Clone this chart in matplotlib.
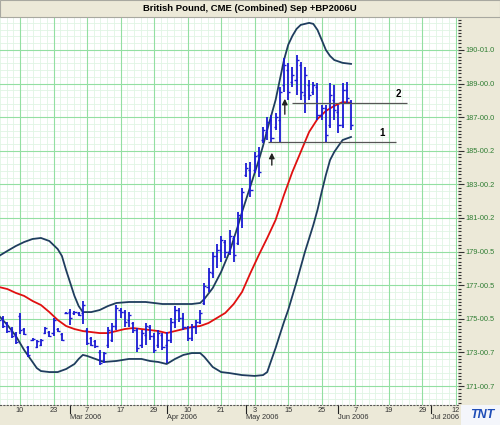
import numpy as np
import matplotlib.pyplot as plt
from matplotlib.ticker import FixedLocator, MultipleLocator
from matplotlib.transforms import blended_transform_factory
from matplotlib.patches import Rectangle

plt.rcParams['font.family'] = ['Liberation Sans', 'DejaVu Sans']

TITLE = "British Pound, CME (Combined) Sep +BP2006U"

# trading-day index, 0 = 10 Feb 2006
bar_idx = list(range(-5, 80))
opens = [175.23, 175.05, 174.75, 174.39, 174.10, 175.17, 174.39, 173.32, 173.74, 173.32,
         173.44, 174.15, 174.21, 174.15, 174.39, 174.10, 175.35, 175.40, 175.35, 175.35,
         175.35, 174.33, 173.86, 173.68, 173.02, 172.55, 173.44, 173.74, 174.57, 175.52,
         175.40, 174.93, 174.75, 174.33, 173.44, 174.04, 174.51, 173.98, 173.44, 174.04,
         173.44, 173.74, 174.81, 175.52, 175.05, 174.45, 173.86, 174.51, 174.81, 175.94,
         176.89, 177.73, 178.74, 179.10, 179.57, 178.98, 179.81, 179.51, 181.18, 183.56,
         183.86, 183.86, 184.75, 185.64, 186.12, 186.83, 186.42, 186.83, 188.92, 189.81,
         189.10, 189.21, 190.11, 188.32, 188.92, 188.50, 188.80, 187.13, 187.55, 186.54,
         188.02, 187.31, 186.54, 188.62, 187.90]
highs = [175.29, 175.17, 174.81, 174.51, 174.21, 175.35, 174.45, 173.38, 173.86, 173.74,
         173.80, 174.51, 174.27, 175.05, 174.45, 174.15, 175.40, 175.58, 175.46, 175.40,
         176.06, 174.45, 173.92, 173.74, 173.14, 173.02, 174.51, 174.75, 175.82, 175.64,
         175.52, 175.40, 174.81, 174.45, 174.33, 174.75, 174.63, 174.15, 174.33, 174.15,
         174.21, 175.05, 175.76, 175.64, 175.35, 174.57, 174.69, 174.93, 175.52, 177.13,
         178.02, 178.98, 179.45, 179.93, 179.69, 180.29, 179.93, 181.36, 182.79, 184.27,
         184.33, 184.93, 185.23, 186.42, 187.01, 187.13, 187.25, 188.80, 190.52, 190.23,
         189.99, 190.70, 190.29, 189.99, 189.21, 189.10, 189.04, 187.73, 187.73, 189.04,
         188.92, 187.73, 189.04, 189.10, 188.02]
lows = [174.81, 174.45, 174.15, 173.86, 173.50, 174.10, 174.04, 172.73, 173.68, 173.26,
        173.38, 174.10, 173.92, 173.98, 174.21, 173.68, 175.29, 174.63, 175.23, 175.17,
        174.69, 173.44, 173.38, 173.26, 172.25, 172.37, 173.26, 173.62, 174.33, 175.05,
        174.51, 174.51, 174.15, 173.02, 173.26, 173.44, 173.74, 172.96, 173.26, 173.14,
        172.37, 173.56, 174.45, 174.81, 174.33, 173.68, 173.68, 174.10, 174.69, 175.82,
        176.60, 177.43, 178.02, 178.38, 178.62, 178.80, 178.38, 179.39, 180.40, 183.44,
        182.25, 183.68, 183.44, 185.46, 185.64, 185.46, 186.24, 185.46, 188.50, 188.02,
        188.80, 188.32, 188.02, 187.25, 188.02, 188.32, 186.83, 186.83, 185.52, 186.36,
        186.83, 186.06, 186.36, 187.85, 186.24]
closes = [174.93, 174.57, 174.27, 173.98, 173.62, 174.33, 174.10, 172.85, 173.80, 173.68,
          173.74, 174.45, 173.98, 174.93, 174.27, 173.74, 175.35, 175.05, 175.40, 175.23,
          175.82, 173.56, 173.44, 173.38, 172.37, 172.96, 174.33, 174.57, 175.64, 175.40,
          174.81, 175.23, 174.33, 173.26, 174.15, 174.57, 173.98, 173.14, 174.15, 173.32,
          173.74, 174.81, 175.52, 175.05, 174.51, 173.86, 174.51, 174.81, 175.35, 176.95,
          177.79, 178.74, 179.10, 179.69, 178.98, 179.93, 178.80, 181.18, 182.55, 183.98,
          182.67, 184.69, 183.74, 186.24, 186.71, 185.76, 187.01, 188.50, 190.11, 188.50,
          189.51, 190.40, 188.50, 189.51, 188.32, 188.92, 187.13, 187.55, 185.94, 188.32,
          187.43, 186.54, 188.62, 188.14, 186.54]

# Bollinger bands (upper / lower) and middle average
upper_idx = [-5, -3, -1, 1, 3, 5, 7, 9, 10, 11, 12, 13, 14, 15, 17, 19, 21, 23, 26, 30,
             34, 37, 41, 43, 44, 46, 48, 50, 52, 53, 55, 57, 58, 59, 60, 61, 62, 63, 64,
             65, 66, 67, 69, 70, 71, 72, 73, 74, 75, 77, 79]
upper_val = [178.74, 179.04, 179.33, 179.57, 179.75, 179.81, 179.63, 179.15, 178.74, 177.90,
             177.13, 176.36, 175.76, 175.40, 175.40, 175.52, 175.76, 175.94, 176.00, 176.00,
             175.88, 175.88, 175.88, 175.94, 176.18, 176.83, 177.79, 178.98, 180.52, 181.36,
             182.90, 184.45, 185.29, 186.24, 187.13, 188.02, 189.21, 190.40, 191.30,
             191.83, 192.25, 192.49, 192.61, 192.55, 192.19, 191.60, 191.00, 190.64, 190.40,
             190.23, 190.17]
mid_idx = [-5, -3, -1, 1, 3, 5, 7, 9, 11, 13, 15, 17, 19, 21, 23, 25, 27, 29, 31, 33,
           35, 37, 39, 41, 43, 45, 47, 49, 51, 53, 55, 57, 59, 61, 63, 65, 67, 69, 71,
           73, 75, 77, 79]
mid_val = [176.89, 176.77, 176.54, 176.36, 176.06, 175.82, 175.40, 174.93, 174.57, 174.39,
           174.27, 174.21, 174.15, 174.15, 174.27, 174.39, 174.45, 174.39, 174.33, 174.27,
           174.15, 174.27, 174.39, 174.51, 174.57, 174.75, 175.05, 175.35, 175.88, 176.60,
           177.73, 178.80, 179.81, 180.88, 182.37, 183.74, 184.93, 186.12, 186.89,
           187.37, 187.67, 187.90, 187.85]
lower_idx = [-5, -3, -1, 1, 3, 4, 5, 7, 9, 11, 13, 14, 15, 16, 18, 20, 23, 26, 29, 31,
             33, 35, 37, 39, 41, 43, 44, 46, 48, 50, 53, 56, 58, 59, 60, 61, 62, 63, 64,
             66, 68, 70, 71, 72, 73, 74, 75, 76, 77, 79]
lower_val = [175.17, 174.63, 173.98, 173.14, 172.43, 172.07, 171.89, 171.83, 171.83, 172.01,
             172.31, 172.61, 172.85, 172.79, 172.61, 172.43, 172.49, 172.61, 172.61, 172.49,
             172.43, 172.31, 172.61, 172.85, 172.96, 172.96, 172.73, 172.13, 171.83, 171.77,
             171.65, 171.60, 171.65, 171.83, 172.55, 173.26, 174.04, 174.81, 175.52,
             177.19, 178.98, 180.58, 181.48, 182.55, 183.56, 184.45, 184.93, 185.29,
             185.64, 185.82]

y_tick_vals = [171, 173, 175, 177, 179, 181, 183, 185, 187, 189, 191]
y_tick_labels = ["171-00.7", "173-00.7", "175-00.5", "177-00.5", "179-00.5", "181-00.2",
                 "183-00.2", "185-00.2", "187-00.0", "189-00.0", "190-01.0"]

day_tick_idx = [0, 8, 16, 24, 32, 40, 48, 56, 64, 72, 80, 88, 96, 104]
day_tick_labels = ["10", "23", "7", "17", "29", "10", "21", "3", "15", "25", "7", "19", "29", "12"]
month_idx = [12, 35, 54, 76, 98]
month_labels = ["Mar 2006", "Apr 2006", "May 2006", "Jun 2006", "Jul 2006"]

# support / resistance marks
line1 = (185.52, 59.2, 89.7)
line2 = (187.86, 64.8, 92.3)

BG = '#ece9d8'
fig = plt.figure(figsize=(5, 4.25), dpi=100, facecolor=BG)
ax = fig.add_axes([0.0, 20 / 425, 458 / 500, 388 / 425])
ax.set_facecolor('white')
ax.set_xlim(-4.77, 104.53)
ax.set_ylim(169.87, 192.96)

# grid
for gx in np.arange(-4.8, 105, 1.6):
    ax.axvline(gx, color='#e0f5e4', lw=0.6, zorder=0)
for gy in np.arange(169.4, 193.2, 0.4):
    ax.axhline(gy, color='#e0f5e4', lw=0.6, zorder=0)
for gx in day_tick_idx:
    ax.axvline(gx, color='#93dfa2', lw=0.8, zorder=0.5)
for gy in y_tick_vals:
    ax.axhline(gy, color='#93dfa2', lw=0.8, zorder=0.5)

# bands
ax.plot(upper_idx, upper_val, color='#1f3d5e', lw=1.3, zorder=2)
ax.plot(lower_idx, lower_val, color='#1f3d5e', lw=1.3, zorder=2)
ax.plot(mid_idx, mid_val, color='#e01010', lw=1.3, zorder=2)

# OHLC bars
bar_col = '#1a1ad4'
x = np.array(bar_idx)
ax.vlines(x, lows, highs, color=bar_col, lw=1.3, zorder=3)
ax.hlines(opens, x - 0.5, x, color=bar_col, lw=1.0, zorder=3)
ax.hlines(closes, x, x + 0.5, color=bar_col, lw=1.0, zorder=3)

# annotations
ax.hlines(line1[0], line1[1], line1[2], color='#555555', lw=0.9, zorder=4)
ax.hlines(line2[0], line2[1], line2[2], color='#555555', lw=0.9, zorder=4)
ax.text(86.3, 186.06, '1', fontsize=7, fontweight='bold', ha='center', va='center', zorder=5)
ax.text(90.2, 188.38, '2', fontsize=7, fontweight='bold', ha='center', va='center', zorder=5)
ax.annotate('', xy=(60.1, 185.05), xytext=(60.1, 183.98),
            arrowprops=dict(arrowstyle='-|>', color='#222222', lw=1.0, mutation_scale=8))
ax.annotate('', xy=(63.2, 188.26), xytext=(63.2, 187.01),
            arrowprops=dict(arrowstyle='-|>', color='#222222', lw=1.0, mutation_scale=8))

# axes
for s in ['left', 'top', 'right']:
    ax.spines[s].set_visible(False)
ax.spines['bottom'].set_linestyle((0, (1, 2)))
ax.spines['bottom'].set_color('#555555')
ax.spines['bottom'].set_linewidth(0.8)

ax.yaxis.tick_right()
ax.yaxis.set_major_locator(FixedLocator(y_tick_vals))
ax.yaxis.set_minor_locator(MultipleLocator(0.2))
ax.set_yticklabels(y_tick_labels)
ax.tick_params(axis='y', which='major', length=4, width=0.8, color='#333333',
               labelsize=5.3, labelcolor='#2e7d32', pad=1)
ax.tick_params(axis='y', which='minor', length=2.5, width=0.8, color='#333333')

ax.set_xticks(day_tick_idx)
ax.set_xticklabels(day_tick_labels)
ax.tick_params(axis='x', length=0, labelsize=5.3, labelcolor='#333333', pad=1.5)

trans = blended_transform_factory(ax.transData, ax.transAxes)
for mi, ml in zip(month_idx, month_labels):
    ax.plot([mi, mi], [0, -0.021], transform=trans, color='#222222', lw=0.8, clip_on=False)
    ax.text(mi, -0.031, ml, transform=trans, fontsize=5.3, color='#333333',
            ha='left', va='center')

# title bar
fig.patches.append(Rectangle((0, 1 - 17 / 425), 1, 17 / 425, transform=fig.transFigure,
                             facecolor=BG, edgecolor='#a8a8a0', lw=0.8))
fig.text(0.5, 1 - 8.5 / 425, TITLE, fontsize=6.8, fontweight='bold', ha='center', va='center')

# logo
fig.patches.append(Rectangle((461 / 500, 0), 39 / 500, 20 / 425, transform=fig.transFigure,
                             facecolor='#f4f6fb', edgecolor='none'))
fig.text(482 / 500, 10 / 425, 'TNT', fontsize=9, fontweight='bold', style='italic',
         color='#1e4db7', ha='center', va='center')

fig.savefig('out.png', dpi=100, facecolor=BG)
